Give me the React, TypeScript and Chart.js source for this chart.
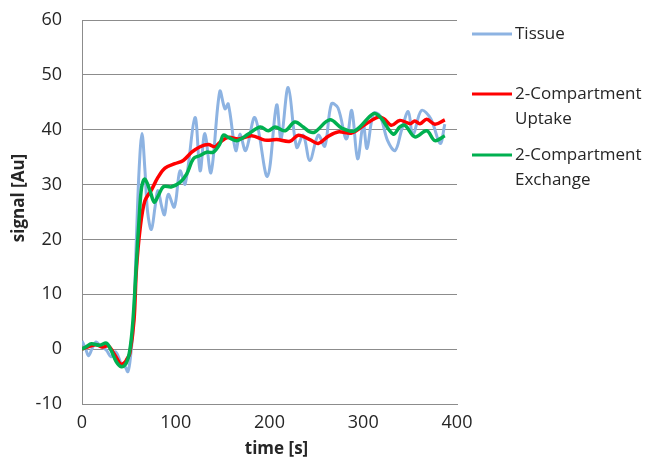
import React, { useEffect, useRef } from "react";
import { Chart, registerables } from "chart.js";

Chart.register(...registerables);

const tissueTime = [0, 4, 7, 11, 15, 20, 26, 31, 36, 42, 46, 49, 52, 55, 58, 61, 64, 67, 70, 74, 78, 81, 85, 88, 92, 98.5, 104.5, 110, 120.5, 126, 131, 137.6, 147, 152.5, 156, 164, 168.5, 174.6, 184.5, 197.7, 207.6, 212.3, 220, 229, 236, 243, 252, 259, 266, 273, 282, 287.7, 294, 300, 304, 311, 318, 326, 334, 341, 348, 353, 362, 372, 382, 387];
const tissueSignal = [1.5, 0.0, -1.2, 0.2, 1.3, 0.5, -0.2, -1.4, -0.5, -2.7, -3.2, -4.1, -1.0, 5.0, 20.0, 33.0, 39.3, 33.0, 25.0, 21.8, 26.0, 28.9, 26.0, 24.5, 28.2, 25.9, 32.5, 30.1, 42.2, 32.5, 39.3, 32.2, 47.0, 43.8, 44.7, 36.2, 39.2, 36.2, 42.2, 31.5, 44.5, 38.3, 47.7, 36.8, 39.0, 34.4, 39.0, 37.0, 44.7, 44.0, 38.3, 43.5, 34.7, 41.0, 36.6, 43.0, 42.5, 38.0, 36.2, 40.0, 43.3, 39.0, 43.5, 42.0, 37.5, 41.0];

const uptakeTime = [0, 8, 15, 22, 28, 33, 38, 41, 45, 48, 51, 55.5, 58, 62, 67, 74, 81, 88.5, 99, 108, 117, 126, 134.7, 142, 147, 156, 167, 181, 195, 207.7, 222, 230.7, 243, 252, 262.7, 273, 287.7, 298, 307, 316, 322, 330, 339, 350, 355, 360.5, 367.7, 376.5, 387];
const uptakeSignal = [0.0, 0.5, 0.8, 0.4, 0.6, -0.5, -1.9, -2.7, -2.5, -1.8, -0.8, 5.3, 14.4, 22.0, 27.0, 29.0, 31.3, 33.0, 33.8, 34.4, 35.9, 36.9, 37.3, 36.9, 37.7, 38.6, 38.3, 38.9, 38.1, 38.2, 37.9, 39.0, 38.2, 37.5, 38.8, 39.6, 39.4, 40.5, 41.5, 42.3, 42.0, 40.8, 41.7, 41.1, 41.6, 41.1, 41.9, 41.0, 41.8];

const exchangeTime = [0, 5, 10, 19, 26, 31, 36.6, 42, 47, 51, 54.4, 58, 61, 63.6, 67, 72.5, 77, 81.4, 86.8, 95.6, 104.5, 111.6, 118.8, 126, 133, 140, 147, 150.7, 156, 165, 177.4, 190, 198.7, 206, 216.5, 227, 236, 243, 248.5, 264.5, 277, 291, 310.7, 318, 332, 339, 344.5, 355, 367.7, 376.5, 387];
const exchangeSignal = [0.0, 0.5, 1.0, 0.7, 1.1, -0.2, -2.3, -3.2, -2.6, -0.2, 5.3, 15.6, 24.0, 29.5, 31.0, 28.9, 26.8, 28.0, 29.6, 29.6, 30.4, 31.9, 34.7, 35.3, 35.9, 35.9, 37.4, 39.0, 38.6, 38.0, 39.2, 40.5, 39.8, 40.5, 39.8, 41.4, 40.5, 39.6, 39.6, 41.8, 40.3, 39.8, 42.9, 42.3, 39.2, 40.5, 40.8, 38.7, 39.8, 38.0, 38.9];

const seriesNames = ["Tissue", "2-Compartment Uptake", "2-Compartment Exchange"];
const legendLines = [["Tissue"], ["2-Compartment", "Uptake"], ["2-Compartment", "Exchange"]];
const seriesColors = ["#8db3e2", "#ff0000", "#00b050"];
const xTickValues = [0, 100, 200, 300, 400];
const yTickValues = [-10, 0, 10, 20, 30, 40, 50, 60];
const xTitle = "time [s]";
const yTitle = "signal [Au]";

const FONT = "'Open Sans', 'Noto Sans', sans-serif";
const TEXT = "#262626";

function toPoints(xs: number[], ys: number[]) {
  return xs.map((x, i) => ({ x, y: ys[i] }));
}

const decorPlugin = {
  id: "decor",
  afterDraw(chart: any) {
    const ctx = chart.ctx;
    const area = chart.chartArea;
    ctx.save();
    ctx.font = `bold 17px ${FONT}`;
    ctx.fillStyle = TEXT;
    ctx.textAlign = "center";
    ctx.textBaseline = "middle";
    ctx.fillText(xTitle, (area.left + area.right) / 2 + 7, 449);
    ctx.save();
    ctx.translate(19, (area.top + area.bottom) / 2 - 14);
    ctx.rotate(-Math.PI / 2);
    ctx.fillText(yTitle, 0, 0);
    ctx.restore();
    const rows = [34, 94, 155];
    ctx.font = `17px ${FONT}`;
    ctx.textAlign = "left";
    legendLines.forEach((lines, i) => {
      const y = rows[i];
      ctx.strokeStyle = seriesColors[i];
      ctx.lineWidth = 3;
      ctx.beginPath();
      ctx.moveTo(472, y);
      ctx.lineTo(512, y);
      ctx.stroke();
      lines.forEach((t, j) => {
        ctx.fillText(t, 515, y + j * 25);
      });
    });
    ctx.restore();
  },
};

export default function App() {
  const ref = useRef<HTMLCanvasElement | null>(null);
  useEffect(() => {
    document.body.style.margin = "0";
    if (!ref.current) return;
    const chart = new Chart(ref.current, {
      type: "line",
      data: {
        datasets: [
          {
            label: seriesNames[0],
            data: toPoints(tissueTime, tissueSignal),
            borderColor: seriesColors[0],
            borderWidth: 3,
            pointRadius: 0,
            tension: 0.35,
            order: 3,
          },
          {
            label: seriesNames[1],
            data: toPoints(uptakeTime, uptakeSignal),
            borderColor: seriesColors[1],
            borderWidth: 3.5,
            pointRadius: 0,
            tension: 0.35,
            order: 2,
          },
          {
            label: seriesNames[2],
            data: toPoints(exchangeTime, exchangeSignal),
            borderColor: seriesColors[2],
            borderWidth: 3.5,
            pointRadius: 0,
            tension: 0.35,
            order: 1,
          },
        ],
      },
      options: {
        animation: false,
        responsive: false,
        layout: { autoPadding: false, padding: { top: 20, right: 190, bottom: 0, left: 0 } },
        plugins: { legend: { display: false }, tooltip: { enabled: false } },
        scales: {
          x: {
            type: "linear",
            min: 0,
            max: 400,
            afterBuildTicks: (s: any) => {
              s.ticks = xTickValues.map((v) => ({ value: v }));
            },
            afterFit: (s: any) => {
              s.height = 56;
              s.paddingLeft = 0;
              s.paddingRight = 0;
            },
            ticks: { font: { family: FONT, size: 18 }, color: TEXT, padding: 8 },
            grid: { display: false, drawTicks: false },
            border: { display: true, color: "#8c8c8c", width: 1 },
          },
          y: {
            min: -10,
            max: 60,
            afterBuildTicks: (s: any) => {
              s.ticks = yTickValues.map((v) => ({ value: v }));
            },
            afterFit: (s: any) => {
              s.width = 82;
              s.paddingTop = 0;
              s.paddingBottom = 0;
            },
            ticks: { font: { family: FONT, size: 18 }, color: TEXT, padding: 20 },
            grid: { color: "#8c8c8c", lineWidth: 1, drawTicks: false },
            border: { display: true, color: "#8c8c8c", width: 1 },
          },
        },
      },
      plugins: [decorPlugin],
    });
    return () => chart.destroy();
  }, []);
  return (
    <div style={{ width: 647, height: 460 }}>
      <canvas ref={ref} width={647} height={460} />
    </div>
  );
}
